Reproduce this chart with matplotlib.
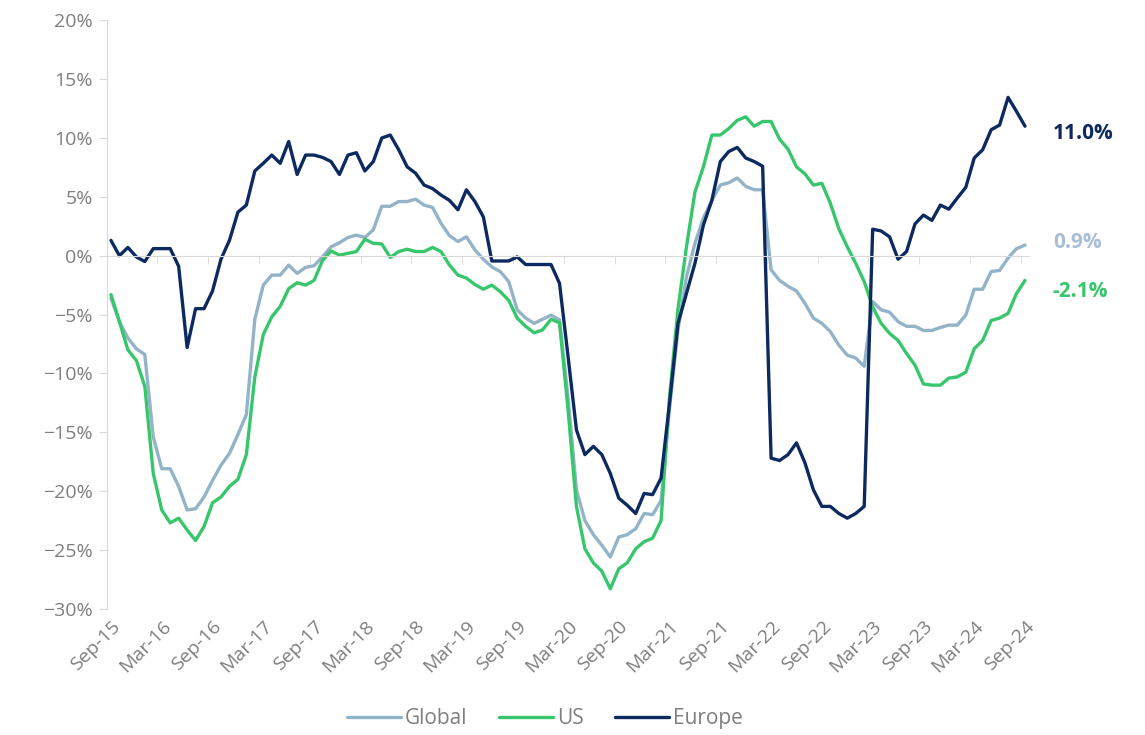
import matplotlib.pyplot as plt
import numpy as np
import pandas as pd
from matplotlib.ticker import PercentFormatter

plt.rcParams['font.family'] = ['Open Sans', 'DejaVu Sans']

# monthly, Sep-15 .. Sep-24
months = pd.date_range('2015-09-01', periods=109, freq='MS').strftime('%b-%y')

global_yoy = [
    -3.6, -5.6, -7.0, -7.9, -8.4, -15.4, -18.1, -18.1, -19.6, -21.6, -21.5, -20.5,
    -19.1, -17.8, -16.8, -15.2, -13.5, -5.4, -2.5, -1.65, -1.65, -0.8, -1.5, -1.0,
    -0.85, -0.1, 0.75, 1.1, 1.55, 1.75, 1.55, 2.2, 4.2, 4.2, 4.6, 4.6,
    4.8, 4.3, 4.1, 2.75, 1.7, 1.2, 1.6, 0.5, -0.3, -0.95, -1.35, -2.2,
    -4.6, -5.3, -5.75, -5.4, -5.05, -5.45, -12.0, -19.9, -22.5, -23.7, -24.6, -25.6,
    -23.9, -23.7, -23.2, -21.9, -22.0, -20.8, -13.0, -6.3, -1.8, 1.05, 3.2, 4.7,
    6.0, 6.2, 6.6, 5.9, 5.6, 5.6, -1.2, -2.1, -2.6, -3.0, -4.05, -5.3,
    -5.75, -6.45, -7.6, -8.45, -8.7, -9.4, -3.9, -4.6, -4.8, -5.6, -6.0, -6.0,
    -6.35, -6.35, -6.1, -5.9, -5.9, -5.05, -2.85, -2.85, -1.35, -1.25, -0.2, 0.6,
    0.9,
]

us_yoy = [
    -3.3, -5.6, -8.0, -8.9, -11.1, -18.5, -21.6, -22.7, -22.3, -23.3, -24.2, -23.0,
    -21.0, -20.5, -19.6, -19.0, -16.9, -10.3, -6.7, -5.2, -4.3, -2.8, -2.3, -2.5,
    -2.1, -0.4, 0.4, 0.05, 0.2, 0.35, 1.4, 1.05, 1.0, -0.15, 0.35, 0.55,
    0.35, 0.35, 0.7, 0.35, -0.8, -1.65, -1.9, -2.45, -2.85, -2.5, -3.05, -3.8,
    -5.3, -6.0, -6.55, -6.3, -5.4, -5.7, -13.0, -21.3, -24.9, -26.1, -26.8, -28.3,
    -26.6, -26.1, -24.9, -24.3, -24.0, -22.5, -12.0, -4.5, 0.75, 5.4, 7.55, 10.25,
    10.25, 10.8, 11.5, 11.8, 11.0, 11.4, 11.4, 9.9, 9.05, 7.55, 6.95, 6.0,
    6.15, 4.45, 2.3, 0.75, -0.65, -2.2, -4.35, -5.75, -6.6, -7.2, -8.3, -9.3,
    -10.9, -11.0, -11.0, -10.4, -10.3, -9.9, -7.9, -7.2, -5.5, -5.3, -4.9, -3.2,
    -2.1,
]

europe_yoy = [
    1.3, 0.0, 0.7, -0.1, -0.5, 0.6, 0.6, 0.6, -0.9, -7.8, -4.5, -4.5,
    -3.0, -0.3, 1.3, 3.7, 4.3, 7.2, 7.85, 8.55, 7.85, 9.7, 6.9, 8.55,
    8.55, 8.35, 8.0, 6.9, 8.55, 8.75, 7.2, 8.0, 10.0, 10.25, 9.0, 7.55,
    7.0, 6.0, 5.7, 5.15, 4.7, 3.9, 5.6, 4.6, 3.3, -0.45, -0.45, -0.45,
    -0.1, -0.75, -0.75, -0.75, -0.75, -2.35, -8.5, -14.8, -16.9, -16.2, -16.9, -18.5,
    -20.6, -21.2, -21.9, -20.2, -20.3, -18.9, -12.5, -5.75, -3.2, -0.65, 2.6, 4.7,
    8.0, 8.85, 9.2, 8.3, 8.0, 7.6, -17.2, -17.4, -16.9, -15.9, -17.6, -19.9,
    -21.3, -21.3, -21.9, -22.3, -21.9, -21.3, 2.25, 2.1, 1.6, -0.3, 0.35, 2.7,
    3.45, 3.0, 4.3, 3.95, 4.9, 5.8, 8.3, 9.0, 10.7, 11.1, 13.45, 12.25,
    11.0,
]

series = [
    ('Global', global_yoy, '#93b3c8', '#a9bfd7', 2),
    ('US', us_yoy, '#38c66c', '#38c66c', -8),
    ('Europe', europe_yoy, '#0c2a5f', '#0c2a5f', -5),
]

axis_grey = '#d9d9d9'
text_grey = '#7f7f7f'

x = np.arange(len(months))

fig = plt.figure(figsize=(11.45, 7.35), dpi=100)
ax = fig.add_axes([0.0932, 0.1717, 0.8057, 0.8007])

for name, vals, color, lab_color, dy in series:
    ax.plot(x, vals, color=color, lw=2.4, label=name, solid_capstyle='round')
    last = vals[-1]
    ax.annotate(f'{last:.1f}%', xy=(x[-1], last), xytext=(20, dy),
                textcoords='offset points', ha='left', va='center',
                fontsize=15, fontweight='bold', color=lab_color)

ax.set_xlim(-0.5, len(months) - 0.5)
ax.set_ylim(-30, 20)

# category axis sits on the zero line, labels along the bottom
for side in ['top', 'right']:
    ax.spines[side].set_visible(False)
ax.spines['bottom'].set_position(('data', 0))
ax.spines['bottom'].set_color(axis_grey)
ax.spines['left'].set_color(axis_grey)
ax.set_xticks([])
ax.set_xticks(np.arange(-0.5, len(months), 6), minor=True)
ax.tick_params(axis='x', which='minor', length=6, color=axis_grey, direction='out')

sec = ax.secondary_xaxis(0)
sec.spines['bottom'].set_visible(False)
sec.set_xticks(x[::6], months[::6])
sec.tick_params(length=0, pad=6, labelsize=14, labelcolor=text_grey)
for lab in sec.get_xticklabels():
    lab.set_rotation(45)
    lab.set_ha('right')
    lab.set_rotation_mode('anchor')

ax.set_yticks(np.arange(-30, 21, 5))
ax.yaxis.set_major_formatter(PercentFormatter(decimals=0))
ax.tick_params(axis='y', length=6, color=axis_grey, labelsize=14,
               labelcolor=text_grey, pad=4)

fig.legend(loc='center', bbox_to_anchor=(0.476, 0.022), ncol=3, frameon=False,
           fontsize=15, handlelength=2.6, handletextpad=0.2, columnspacing=1.5,
           labelcolor=text_grey)

fig.savefig('out.png', dpi=100)
